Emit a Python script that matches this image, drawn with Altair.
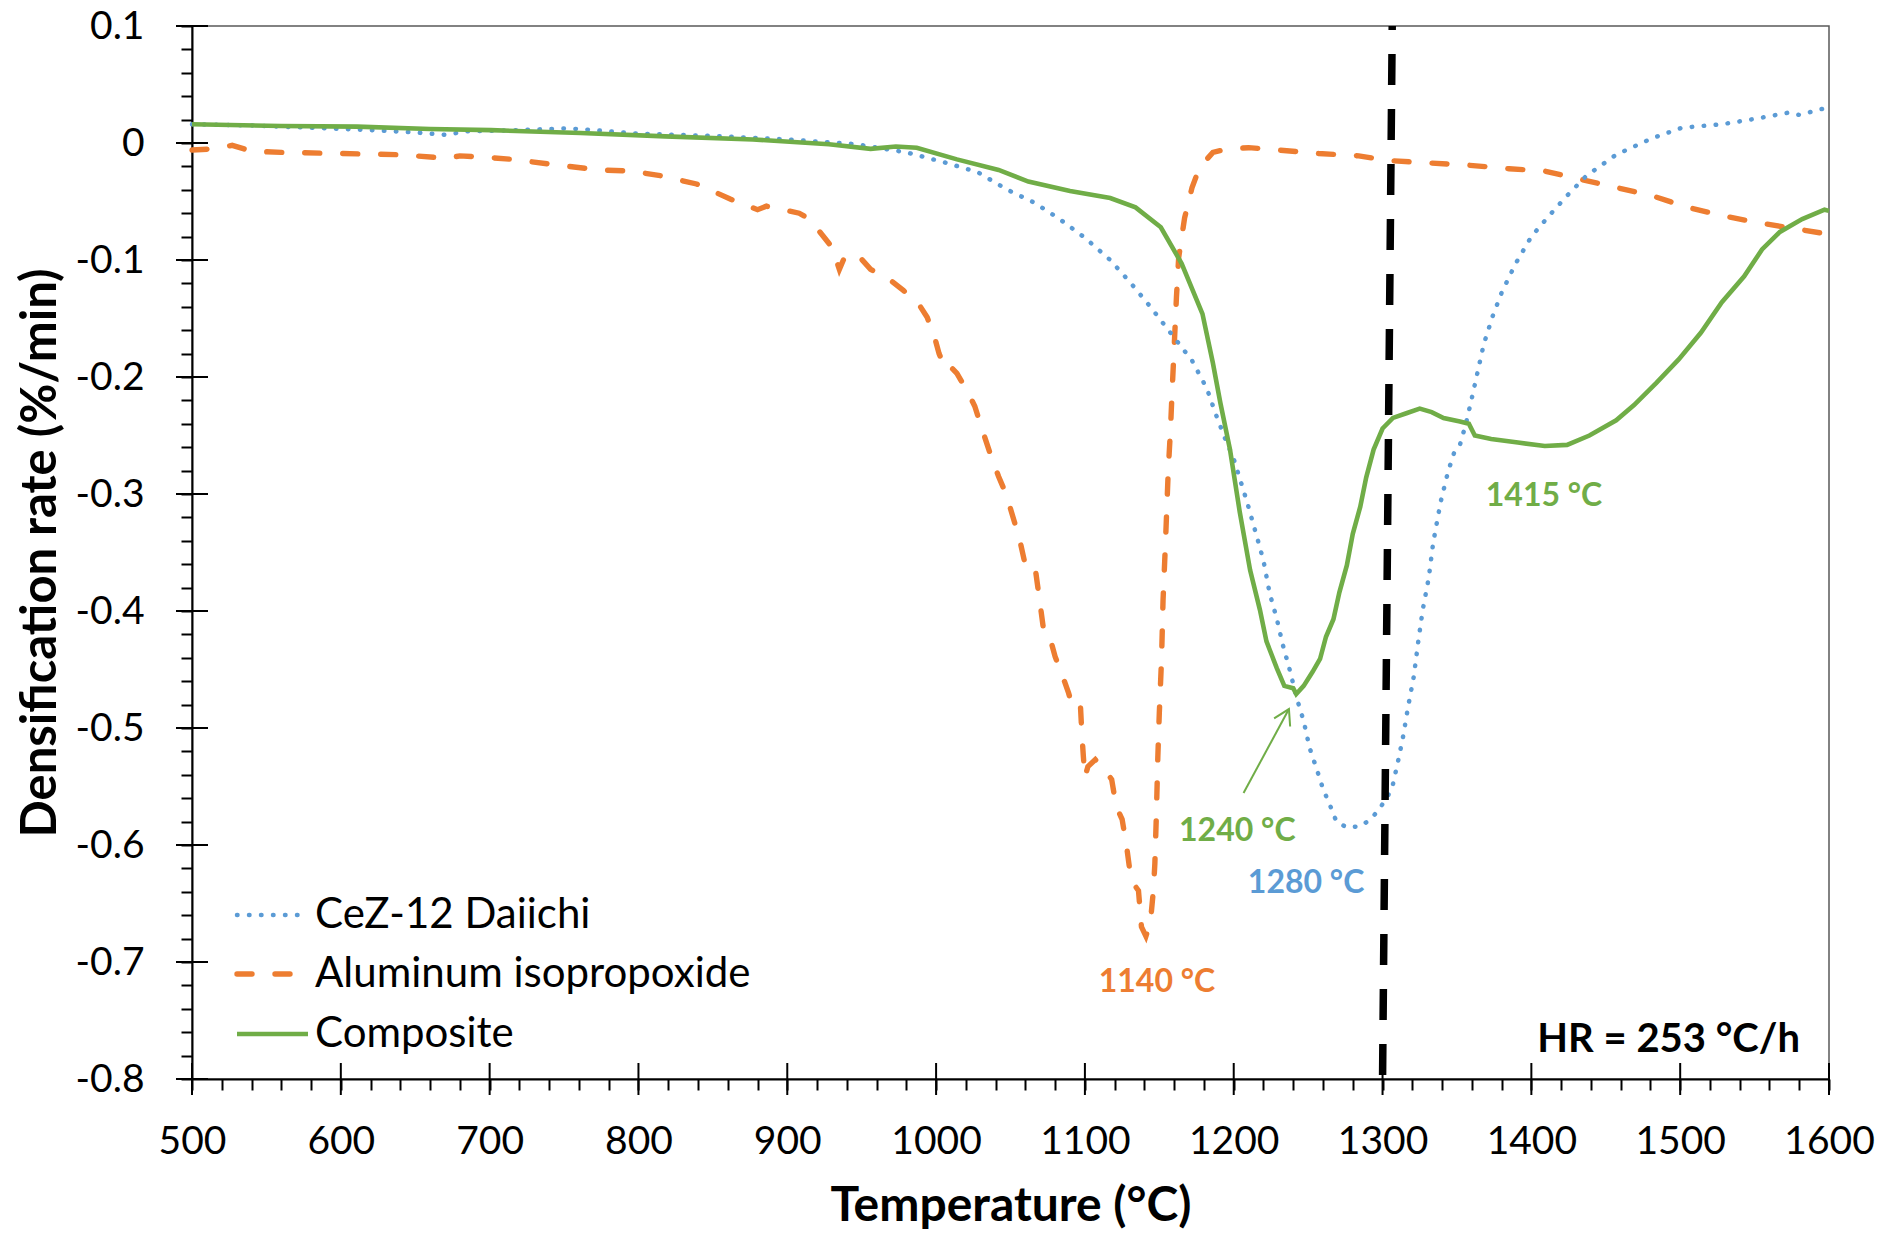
import altair as alt
import pandas as pd

# ---------------- data ----------------
blue_T = [500, 540, 580, 620, 650, 670, 685, 720, 752, 770, 800, 850, 900, 946, 980, 1007, 1028, 1048,
          1066, 1083, 1100, 1117, 1131, 1144, 1158, 1172, 1182, 1188, 1194, 1200, 1209, 1215, 1220, 1224,
          1229, 1233, 1238, 1242, 1247, 1251, 1256, 1260, 1265, 1269, 1276, 1285, 1292, 1298, 1304, 1307,
          1311, 1314, 1317, 1321, 1324, 1327, 1331, 1334, 1339, 1344, 1348, 1352, 1356, 1360, 1364, 1368,
          1374, 1380, 1389, 1400, 1412, 1424, 1437, 1457, 1481, 1501, 1528, 1552, 1573, 1580, 1595, 1600]
blue_v = [0.016, 0.015, 0.013, 0.011, 0.009, 0.007, 0.010, 0.011, 0.0125, 0.011, 0.008, 0.006, 0.003,
          -0.001, -0.008, -0.017, -0.025, -0.040, -0.051, -0.065, -0.081, -0.100, -0.120, -0.140, -0.163,
          -0.186, -0.210, -0.232, -0.252, -0.270, -0.307, -0.334, -0.357, -0.384, -0.407, -0.429, -0.452,
          -0.473, -0.494, -0.517, -0.536, -0.552, -0.567, -0.580, -0.585, -0.584, -0.578, -0.569, -0.557,
          -0.548, -0.525, -0.506, -0.483, -0.456, -0.426, -0.399, -0.372, -0.342, -0.307, -0.281, -0.265,
          -0.258, -0.240, -0.218, -0.195, -0.172, -0.148, -0.128, -0.104, -0.080, -0.062, -0.045, -0.028,
          -0.010, 0.004, 0.013, 0.016, 0.021, 0.026, 0.024, 0.029, 0.030]

orange_T = [500, 515, 527, 540, 560, 600, 640, 671, 680, 695, 716, 746, 774, 795, 815, 839, 862, 880, 886,
            908, 915, 925, 930, 935, 939, 949, 956, 970, 978, 988, 994, 999, 1002, 1007, 1011, 1014, 1021,
            1026, 1031, 1037, 1042, 1047, 1056, 1060, 1062, 1067, 1070, 1072, 1075, 1080, 1084, 1089, 1092,
            1097, 1098, 1099, 1100, 1102, 1107, 1112, 1118, 1121, 1125, 1128, 1130, 1132, 1136, 1138, 1141,
            1144, 1146, 1147, 1148, 1149, 1150, 1151.5, 1152.5, 1154, 1156, 1157.5, 1158.5, 1160, 1161.5,
            1163, 1167, 1172, 1177, 1186, 1196, 1210, 1230, 1257, 1284, 1304, 1331, 1358, 1385, 1409, 1433,
            1457, 1481, 1505, 1528, 1552, 1576, 1600]
orange_v = [-0.006, -0.005, -0.002, -0.007, -0.008, -0.009, -0.010, -0.013, -0.011, -0.012, -0.014, -0.019,
            -0.023, -0.024, -0.028, -0.035, -0.048, -0.057, -0.054, -0.060, -0.065, -0.081, -0.089, -0.108,
            -0.096, -0.098, -0.108, -0.118, -0.126, -0.137, -0.149, -0.166, -0.180, -0.195, -0.193, -0.197,
            -0.212, -0.225, -0.245, -0.268, -0.285, -0.300, -0.338, -0.361, -0.368, -0.367, -0.395, -0.414,
            -0.416, -0.439, -0.452, -0.470, -0.483, -0.481, -0.506, -0.525, -0.542, -0.533, -0.527, -0.534,
            -0.544, -0.567, -0.578, -0.601, -0.620, -0.632, -0.639, -0.670, -0.678, -0.666, -0.639, -0.616,
            -0.575, -0.525, -0.487, -0.441, -0.391, -0.346, -0.280, -0.245, -0.215, -0.174, -0.132, -0.098,
            -0.064, -0.038, -0.021, -0.008, -0.005, -0.004, -0.006, -0.009, -0.011, -0.015, -0.017, -0.019,
            -0.022, -0.024, -0.031, -0.038, -0.045, -0.055, -0.062, -0.068, -0.073, -0.078]

green_T = [500, 560, 611, 660, 701, 761, 818, 877, 928, 956, 973, 987, 1014, 1042, 1062, 1090, 1117, 1134,
           1151, 1165, 1179, 1186, 1191, 1197.5, 1204, 1211, 1217.6, 1222, 1229, 1234, 1240, 1242, 1247,
           1253, 1258, 1262, 1267, 1271, 1276, 1280, 1285, 1289, 1294, 1300, 1307, 1316, 1325, 1333, 1341,
           1352, 1358, 1362, 1373, 1391, 1409, 1424, 1439, 1457, 1469, 1484, 1499, 1514, 1528, 1543, 1555,
           1567, 1582, 1597, 1600]
green_v = [0.016, 0.0145, 0.014, 0.012, 0.011, 0.0085, 0.0057, 0.003, -0.001, -0.005, -0.003, -0.004,
           -0.014, -0.023, -0.033, -0.041, -0.047, -0.055, -0.072, -0.103, -0.146, -0.188, -0.222, -0.262,
           -0.315, -0.365, -0.399, -0.426, -0.449, -0.464, -0.466, -0.471, -0.464, -0.452, -0.441, -0.422,
           -0.407, -0.384, -0.361, -0.334, -0.311, -0.286, -0.262, -0.244, -0.235, -0.231, -0.227, -0.230,
           -0.235, -0.238, -0.240, -0.250, -0.253, -0.256, -0.259, -0.258, -0.250, -0.237, -0.224, -0.205,
           -0.185, -0.162, -0.136, -0.114, -0.091, -0.076, -0.065, -0.057, -0.058]

series_names = ["CeZ-12 Daiichi", "Aluminum isopropoxide", "Composite"]
series_colors = ["#5B9BD5", "#ED7D31", "#70AD47"]

# vertical dashed reference line (slightly slanted in the original)
vline_T = [1306.5, 1300]
vline_v = [0.1, -0.8]

# peak annotations
ann_text = ["1140 °C", "1240 °C", "1280 °C", "1415 °C"]
ann_T = [1148.4, 1202.4, 1248.6, 1408.5]
ann_v = [-0.717, -0.588, -0.6325, -0.302]
ann_color = ["#ED7D31", "#70AD47", "#5B9BD5", "#70AD47"]

arrow_T = [1206.6, 1237.1]
arrow_v = [-0.5556, -0.4838]

hr_text = "HR = 253 °C/h"

x_major = [500, 600, 700, 800, 900, 1000, 1100, 1200, 1300, 1400, 1500, 1600]
x_ticks = list(range(500, 1601, 20))
y_major = [0.1, 0.0, -0.1, -0.2, -0.3, -0.4, -0.5, -0.6, -0.7, -0.8]
y_ticks = [round(-0.8 + 0.02 * i, 2) for i in range(46)]

# ---------------- chart ----------------
W, H = 1637, 1053
FONT = "Lato"

xscale = alt.Scale(domain=[500, 1600], nice=False, zero=False)
yscale = alt.Scale(domain=[-0.8, 0.1], nice=False, zero=False)

x_axis = alt.Axis(
    values=x_ticks,
    labelExpr="datum.value % 100 === 0 ? toString(datum.value) : ''",
    tickSize=11, tickWidth=2, tickColor="black",
    domainColor="black", domainWidth=2,
    labelFont=FONT, labelFontSize=39, labelColor="black", labelPadding=32,
    labelOverlap=False, labelFlush=False,
    grid=False,
    title="Temperature (°C)", titleFont=FONT, titleFontSize=48, titleFontWeight="bold",
    titleColor="black", titleX=W / 2, titleY=141, titleAlign="center", titleBaseline="alphabetic",
)
y_axis = alt.Axis(
    values=y_ticks,
    labelExpr="abs(datum.value*10 - round(datum.value*10)) < 0.001 ? toString(round(datum.value*10)/10) : ''",
    tickSize=11, tickWidth=2, tickColor="black",
    domainColor="black", domainWidth=2,
    labelFont=FONT, labelFontSize=39, labelColor="black", labelPadding=37,
    labelOverlap=False, labelFlush=False,
    grid=False,
    title="Densification rate (%/min)", titleFont=FONT, titleFontSize=49, titleFontWeight="bold",
    titleColor="black", titleX=-152, titleY=H / 2, titleAngle=-90, titleAlign="center",
    titleBaseline="middle",
)

X = alt.X("T:Q", scale=xscale, axis=x_axis)
Y = alt.Y("v:Q", scale=yscale, axis=y_axis)

df_blue = pd.DataFrame({"T": blue_T, "v": blue_v})
df_orange = pd.DataFrame({"T": orange_T, "v": orange_v})
df_green = pd.DataFrame({"T": green_T, "v": green_v})

blue = alt.Chart(df_blue).mark_line(
    color=series_colors[0], strokeWidth=4.5, strokeDash=[0.5, 11.5], strokeCap="round"
).encode(x=X, y=Y)
orange = alt.Chart(df_orange).mark_line(
    color=series_colors[1], strokeWidth=5.4, strokeDash=[15, 23], strokeCap="round"
).encode(x=X, y=Y)
green = alt.Chart(df_green).mark_line(
    color=series_colors[2], strokeWidth=4.6
).encode(x=X, y=Y)

df_vline = pd.DataFrame({"T": vline_T, "v": vline_v, "o": [0, 1]})
vline = alt.Chart(df_vline).mark_line(
    color="black", strokeWidth=7.5, strokeDash=[31, 24], strokeDashOffset=27
).encode(x=X, y=Y, order="o:Q")

# major ticks cross the axis lines
xt = alt.Chart(pd.DataFrame({"T": x_major})).mark_rule(color="black", strokeWidth=2).encode(
    x=X, y=alt.value(H - 16), y2=alt.value(H + 16))
yt = alt.Chart(pd.DataFrame({"v": y_major})).mark_rule(color="black", strokeWidth=2).encode(
    y=Y, x=alt.value(-16), x2=alt.value(16))

df_ann = pd.DataFrame({"T": ann_T, "v": ann_v, "t": ann_text, "c": ann_color})
ann = alt.Chart(df_ann).mark_text(
    font=FONT, fontSize=32, fontWeight="bold", align="center", baseline="middle"
).encode(x=X, y=Y, text="t:N", color=alt.Color("c:N", scale=None))

df_arrow = pd.DataFrame({"T": arrow_T, "v": arrow_v, "o": [0, 1]})
arrow = alt.Chart(df_arrow).mark_line(color=series_colors[2], strokeWidth=2).encode(
    x=X, y=Y, order="o:Q")
arrow_head = alt.Chart(df_arrow.iloc[[1]]).mark_point(
    shape="M-0.6,1L0,0L0.6,1", filled=False, color=series_colors[2], strokeWidth=2,
    size=900, angle=27, opacity=1
).encode(x=X, y=Y)

hr = alt.Chart(pd.DataFrame({"t": [hr_text]})).mark_text(
    font=FONT, fontSize=40, fontWeight="bold", align="right", baseline="middle", color="black"
).encode(x=alt.value(1608), y=alt.value(1014), text="t:N")

# manual legend
leg_y = [889, 948, 1008]
leg_layers = []
leg_styles = [
    dict(strokeWidth=4.5, strokeDash=[0.5, 11.5], strokeCap="round"),
    dict(strokeWidth=5.4, strokeDash=[15, 23], strokeCap="round"),
    dict(strokeWidth=4.6),
]
for name, col, yy, st in zip(series_names, series_colors, leg_y, leg_styles):
    d = pd.DataFrame({"t": [name]})
    leg_layers.append(
        alt.Chart(d).mark_rule(color=col, **st).encode(
            x=alt.value(45), x2=alt.value(116), y=alt.value(yy))
    )
    leg_layers.append(
        alt.Chart(d).mark_text(font=FONT, fontSize=42, align="left", baseline="middle",
                               color="black").encode(
            x=alt.value(123), y=alt.value(yy), text="t:N")
    )

chart = alt.layer(
    xt, yt, orange, blue, green, vline, arrow, arrow_head, ann, hr, *leg_layers
).properties(
    width=W, height=H,
    padding={"left": 184, "top": 18, "right": 46, "bottom": 150},
    autosize=alt.AutoSizeParams(type="none"),
).configure_view(
    stroke="#595959", strokeWidth=1.5
)

chart.save("out.html", embed_options={"renderer": "svg", "actions": False})
